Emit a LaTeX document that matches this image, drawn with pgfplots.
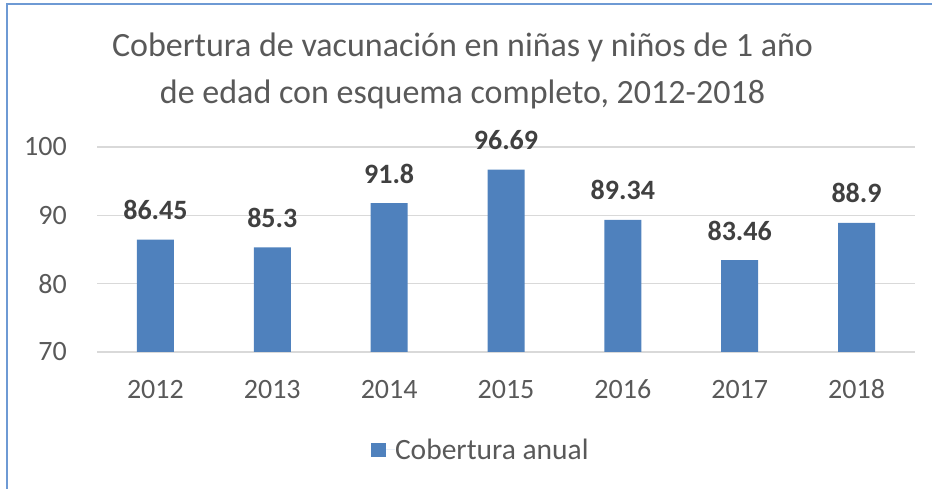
\documentclass[border=0pt]{standalone}
\usepackage{pgfplots}
\pgfplotsset{compat=1.18}
\usepackage{fontspec}
\setmainfont{Carlito}
\definecolor{barblue}{HTML}{4F81BD}
\definecolor{ticktext}{HTML}{595959}
\definecolor{labtext}{HTML}{404040}
\definecolor{gridgray}{HTML}{D9D9D9}
\definecolor{framec}{HTML}{6E9AD4}
\begin{document}
\begin{tikzpicture}[x=1pt,y=1pt]
\useasboundingbox (0,0) rectangle (932,489);
\draw[framec, line width=2pt] (7,0) -- (7,485) -- (932,485);
\node[anchor=base, text=ticktext, font=\fontsize{34}{40}\selectfont] at (462.5,432) {Cobertura de vacunación en niñas y niños de 1 año};
\node[anchor=base, text=ticktext, font=\fontsize{34}{40}\selectfont] at (462.5,385) {de edad con esquema completo, 2012-2018};
\begin{axis}[
  at={(97pt,137pt)}, anchor=south west,
  scale only axis, width=818pt, height=205pt,
  ybar, bar width=37pt,
  xmin=-0.5, xmax=6.5, ymin=70, ymax=100,
  ytick={70,80,90,100},
  xtick=data,
  xticklabels={2012,2013,2014,2015,2016,2017,2018},
  major tick length=0pt,
  axis line style={draw=none},
  axis x line*=bottom,
  ymajorgrids, grid style={gridgray, line width=1.5pt},
  /pgf/number format/assume math mode=true,
  tick label style={text=ticktext, font=\fontsize{28}{33}\selectfont},
  yticklabel style={anchor=east, inner sep=0pt, xshift=-30pt},
  xticklabel style={anchor=base, inner sep=0pt, yshift=-47pt},
  nodes near coords,
  every node near coord/.style={anchor=base, inner sep=0pt, yshift=20pt, text=labtext, font=\bfseries\fontsize{28}{33}\selectfont},
  legend style={at={(axis description cs:0.468,-0.478)}, anchor=center, draw=none, fill=none, font=\fontsize{29.5}{34}\selectfont, text=ticktext, inner sep=0pt, nodes={inner sep=0pt}},
  legend image code/.code={\path (0pt,0pt) -- (24pt,0pt); \fill[barblue] (0pt,-7pt) rectangle (15pt,7pt);},
  clip=false,
]
\addplot[fill=barblue, draw=none] coordinates {(0,86.45) (1,85.3) (2,91.8) (3,96.69) (4,89.34) (5,83.46) (6,88.9)};
\addlegendentry{Cobertura anual}
\end{axis}
\end{tikzpicture}
\end{document}
